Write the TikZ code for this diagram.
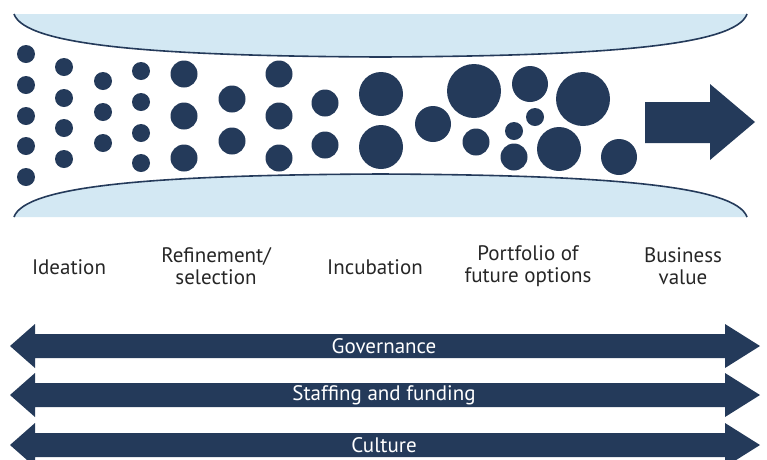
\documentclass[tikz,border=0pt]{standalone}
\usepackage{fontspec}
\setmainfont{PT Sans}
\definecolor{navy}{HTML}{243A5A}
\definecolor{lightblue}{HTML}{D3E8F3}
\tikzset{
  band/.style={fill=lightblue},
  edge/.style={draw=navy,line width=1.6pt},
  dot/.style={fill=navy},
  stage/.style={font=\fontsize{21}{22}\selectfont,text=black!85,align=center,inner sep=0pt},
  bartext/.style={font=\fontsize{21}{22}\selectfont,text=white,inner sep=0pt},
  bar/.style={fill=navy}
}
\begin{document}
\begin{tikzpicture}[x=1pt,y=-1pt]
\useasboundingbox (0,0) rectangle (767,459);
\clip (0,0) rectangle (767,459);
% bands
\fill[band] (14,14) .. controls (25,45) and (150,56) .. (380.5,57) .. controls (611,56) and (736,45) .. (747,14) -- cycle;
\fill[band] (14,217) .. controls (25,186) and (150,175) .. (380.5,174) .. controls (611,175) and (736,186) .. (747,217) -- cycle;
\draw[edge] (14,14) .. controls (25,45) and (150,56) .. (380.5,57) .. controls (611,56) and (736,45) .. (747,14);
\draw[edge] (14,217) .. controls (25,186) and (150,175) .. (380.5,174) .. controls (611,175) and (736,186) .. (747,217);
% dots
\foreach \y in {54,85,116,146,177} \fill[dot] (26,\y) circle (9);
\foreach \y in {67,98,128,159} \fill[dot] (64,\y) circle (9);
\foreach \y in {81,112,143} \fill[dot] (103,\y) circle (9);
\foreach \y in {71,102,133,163} \fill[dot] (141,\y) circle (9);
\foreach \y in {74,116,158} \fill[dot] (184,\y) circle (13.5);
\foreach \y in {99,141} \fill[dot] (232,\y) circle (13.5);
\foreach \y in {74,116,158} \fill[dot] (279,\y) circle (13.5);
\foreach \y in {103,145} \fill[dot] (325,\y) circle (13.5);
\foreach \y in {94,147} \fill[dot] (381,\y) circle (22);
\fill[dot] (433,124) circle (18);
\fill[dot] (474,91) circle (27);
\fill[dot] (476,142) circle (13.5);
\fill[dot] (530,84) circle (18);
\fill[dot] (535,117) circle (9);
\fill[dot] (514,131) circle (9);
\fill[dot] (514,157) circle (13.5);
\fill[dot] (583,99) circle (27);
\fill[dot] (559,149) circle (22);
\fill[dot] (619,157) circle (18);
% big arrow
\fill[dot] (645,102) -- (710,102) -- (710,84) -- (755,122) -- (710,160) -- (710,143) -- (645,143) -- cycle;
% stage labels
\node[stage] (ideation) at (69,267) {Ideation};
\node[stage] (refine) at (216,266) {Refinement/\\selection};
\node[stage] (incub) at (375,267) {Incubation};
\node[stage] (portf) at (528,266) {Portfolio of\\future options};
\node[stage] (busval) at (683,266) {Business\\value};
% bottom arrows
\foreach \c/\n/\t in {346/gov/Governance,395/staff/Staffing and funding,445/cult/Culture}{
  \fill[bar] (10,\c) -- (35,\c-22) -- (35,\c-12) -- (725,\c-12) -- (725,\c-22) -- (760,\c) -- (725,\c+22) -- (725,\c+12) -- (35,\c+12) -- (35,\c+22) -- cycle;
  \node[bartext] (\n) at (384,\c) {\t};
}
\end{tikzpicture}
\end{document}
